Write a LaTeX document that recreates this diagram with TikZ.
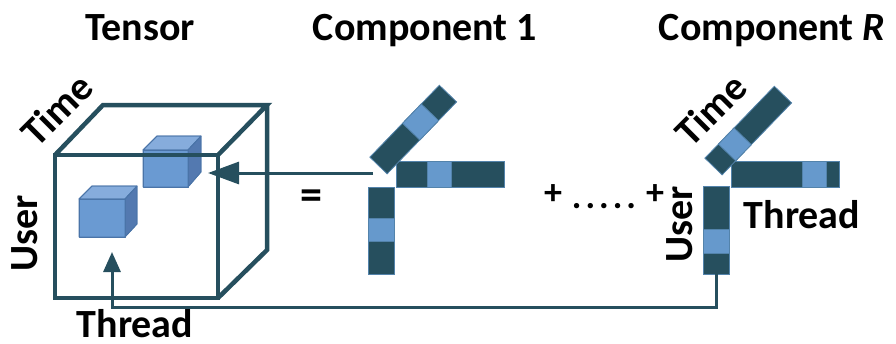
\documentclass[tikz,border=0pt]{standalone}
\usepackage{fontspec}
\setmainfont{Carlito}
\usetikzlibrary{arrows.meta}
\definecolor{dk}{HTML}{264F5E}
\definecolor{lb}{HTML}{6699CC}
\definecolor{cfront}{HTML}{6A9AD2}
\definecolor{ctop}{HTML}{86ACDC}
\definecolor{cside}{HTML}{5379B0}
\definecolor{cedge}{HTML}{4A74A8}
\tikzset{
  lbl/.style={font=\fontsize{40}{48}\selectfont\bfseries, inner sep=0pt},
  sym/.style={font=\fontsize{36}{40}\selectfont\bfseries, inner sep=0pt},
  bar/.style={fill=dk, draw=lb!70!dk, line width=0.8pt},
  cell/.style={fill=lb, draw=lb!70!dk, line width=0.8pt},
  cubeline/.style={draw=dk, line width=4.5pt, line join=miter},
  conn/.style={draw=dk, line width=3pt},
  smallcube/.style={draw=cedge, line width=0.8pt, line join=round}
}
\begin{document}
\begin{tikzpicture}[x=1pt,y=-1pt]
\useasboundingbox (0,0) rectangle (896,343);

% titles
\node[lbl, anchor=base] (tTensor) at (140,40) {Tensor};
\node[lbl, anchor=base] (tC1) at (425,40) {Component 1};
\node[lbl, anchor=base] (tCR) at (772,40) {Component \textit{R}};

% big cube back lines
\draw[cubeline] (55,155) -- (103,105) -- (267,105) -- (218,155);
\draw[cubeline] (267,105) -- (267,250) -- (218,298);

% small cube 1 (upper)
\fill[smallcube, fill=ctop] (143,150) -- (157,136) -- (201,136) -- (188,150) -- cycle;
\fill[smallcube, fill=cside] (188,150) -- (201,136) -- (201,172) -- (188,187) -- cycle;
\fill[smallcube, fill=cfront] (143,150) rectangle (188,187);
\draw[smallcube] (143,150) -- (157,136) -- (201,136) -- (201,172) -- (188,187) -- (143,187) -- cycle
  (143,150) -- (188,150) -- (188,187) (188,150) -- (201,136);

% small cube 2 (lower)
\fill[smallcube, fill=ctop] (79,199) -- (92,186) -- (137,186) -- (125,199) -- cycle;
\fill[smallcube, fill=cside] (125,199) -- (137,186) -- (137,224) -- (125,237) -- cycle;
\fill[smallcube, fill=cfront] (79,199) rectangle (125,237);
\draw[smallcube] (79,199) -- (92,186) -- (137,186) -- (137,224) -- (125,237) -- (79,237) -- cycle
  (79,199) -- (125,199) -- (125,237) (125,199) -- (137,186);

% big cube front face
\draw[cubeline] (55,155) rectangle (218,298);

% cube labels
\node[lbl, rotate=45] (cTime) at (57,110) {Time};
\node[lbl, rotate=90] (cUser) at (25,233) {User};
\node[lbl] (cThread) at (135,324) {Thread};

% equals and plus
\node[sym, font=\fontsize{44}{48}\selectfont\bfseries] (eq) at (311,200) {=};
\node[sym] (p1) at (553,195) {+};
\node[sym, anchor=base] (dots) at (604,208) {.\kern4pt.\kern4pt.\kern4pt.\kern4pt.};
\node[sym] (p2) at (655,195) {+};

% Component 1
\node[bar, minimum width=108pt, minimum height=26pt, inner sep=0pt] (h1) at (450,174) {};
\fill[cell] (427,161) rectangle (451,187);
\node[bar, minimum width=26pt, minimum height=87pt, inner sep=0pt] (v1) at (381,230.5) {};
\fill[cell] (368,218) rectangle (394,241);
\begin{scope}[shift={(378.5,165.5)}, rotate=46]
  \draw[bar] (0,-12) rectangle (100,12);
  \draw[cell] (47,-12) rectangle (74,12);
\end{scope}

% Component R
\node[bar, minimum width=108pt, minimum height=26pt, inner sep=0pt] (hR) at (785,174) {};
\fill[cell] (802,161) rectangle (826,187);
\node[bar, minimum width=26pt, minimum height=88pt, inner sep=0pt] (vR) at (716,230) {};
\fill[cell] (703,229) rectangle (729,253);
\begin{scope}[shift={(713.5,166.5)}, rotate=46]
  \draw[bar] (0,-12) rectangle (100,12);
  \draw[cell] (19.5,-12) rectangle (42,12);
\end{scope}

\node[lbl, rotate=45] (rTime) at (711,110) {Time};
\node[lbl, rotate=90] (rUser) at (680,224) {User};
\node[lbl] (rThread) at (802,215) {Thread};

% connectors
\coordinate (a1s) at (373,173);
\coordinate (a1e) at (208,173);
\draw[conn, -{Triangle[length=31pt,width=22pt]}] (a1s) -- (a1e);

\coordinate (a2e) at (112,252);
\draw[conn, -{Triangle[length=20pt,width=17pt]}] (vR.south) |- (112,307) -- (a2e);
\end{tikzpicture}
\end{document}
